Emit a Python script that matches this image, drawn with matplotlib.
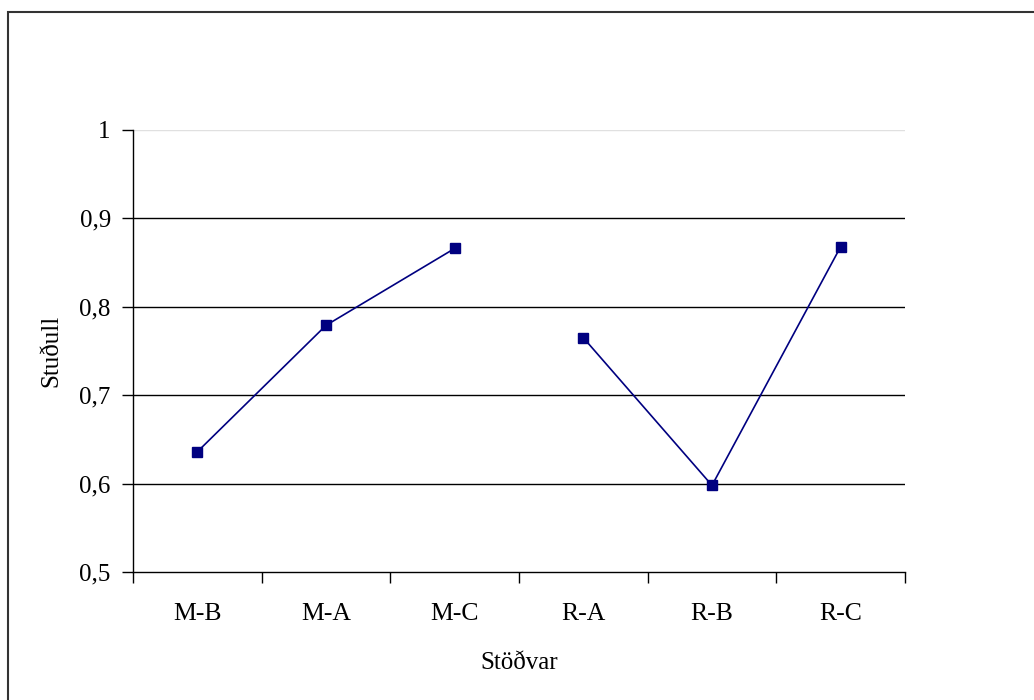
import numpy as np
import matplotlib.pyplot as plt
from matplotlib.patches import Rectangle

# Station labels and ratio values
stations = ["M-B", "M-A", "M-C", "R-A", "R-B", "R-C"]
m_values = [0.636, 0.779, 0.866]
r_values = [0.765, 0.598, 0.868]
y_ticks = [0.5, 0.6, 0.7, 0.8, 0.9, 1.0]
y_tick_labels = ["0,5", "0,6", "0,7", "0,8", "0,9", "1"]

plt.rcParams['font.family'] = ['Liberation Serif', 'DejaVu Serif']

fig = plt.figure(figsize=(10.34, 7), dpi=100)
ax = fig.add_axes([133 / 1034, 1 - 572 / 700, (905 - 133) / 1034, (572 - 130) / 700])

# outer chart border (cut by right and bottom image edge)
fig.patches.append(Rectangle((8 / 1034, -0.05), 1.1, 1 - 12 / 700 + 0.05,
                             transform=fig.transFigure, fill=False,
                             edgecolor='#333333', linewidth=1.5))

navy = '#000080'
x = np.arange(len(stations))
ax.plot(x[:3], m_values, color=navy, lw=1.2, marker='s', ms=7,
        markerfacecolor=navy, markeredgecolor=navy)
ax.plot(x[3:], r_values, color=navy, lw=1.2, marker='s', ms=7,
        markerfacecolor=navy, markeredgecolor=navy)

ax.set_xlim(-0.5, 5.5)
ax.set_ylim(0.5, 1.0)

# gridlines
for yv in y_ticks[1:]:
    ax.axhline(yv, color='#e0e0e0' if yv == 1.0 else 'black', lw=1.0, zorder=0)

ax.set_yticks(y_ticks)
ax.set_yticklabels(y_tick_labels, fontsize=18)
ax.set_xticks(x)
ax.set_xticklabels(stations, fontsize=18.5)
ax.set_xticks(np.arange(-0.5, 6, 1), minor=True)
ax.tick_params(axis='x', which='major', length=0, pad=22)
ax.tick_params(axis='x', which='minor', length=8, width=1)
ax.tick_params(axis='y', length=8, width=1, pad=8)

for side in ['top', 'right']:
    ax.spines[side].set_visible(False)
ax.spines['left'].set_linewidth(1)
ax.spines['bottom'].set_linewidth(1)

ax.set_ylabel('Stuðull', fontsize=18, labelpad=12)
ax.set_xlabel('Stöðvar', fontsize=18, labelpad=20)

fig.savefig('out.png', dpi=100)
